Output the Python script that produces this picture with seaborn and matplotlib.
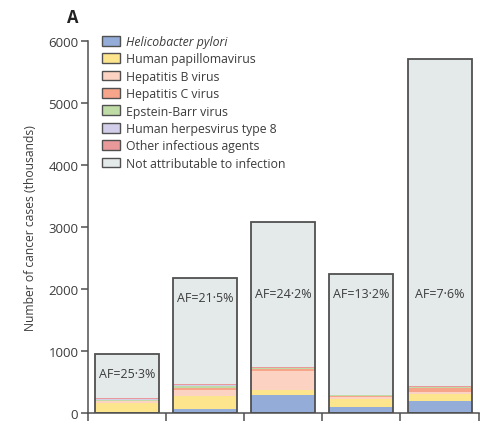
import numpy as np
import pandas as pd
import matplotlib
matplotlib.use("Agg")
import matplotlib.pyplot as plt
from matplotlib.patches import Patch
import seaborn as sns

# ---- data (thousands of new cancer cases) ----
groups = ["1", "2", "3", "4", "5"]
totals = [953, 2180, 3080, 2245, 5720]
h_pylori = [5, 70, 295, 92, 199]
hpv = [160, 215, 80, 134, 118]
hbv = [25, 85, 300, 35, 25]
hcv = [5, 40, 35, 18, 65]
ebv = [10, 35, 20, 10, 15]
hhv8 = [30, 10, 2, 2, 3]
other_agents = [6, 14, 13, 5, 10]

agent_names = ["Helicobacter pylori", "Human papillomavirus", "Hepatitis B virus",
               "Hepatitis C virus", "Epstein-Barr virus", "Human herpesvirus type 8",
               "Other infectious agents", "Not attributable to infection"]
agent_colors = ["#93acd8", "#fde58d", "#fcd3c3", "#f6a58b", "#c0dca6",
                "#d2cde8", "#e9999a", "#e4eaea"]

agents = [h_pylori, hpv, hbv, hcv, ebv, hhv8, other_agents]
attributable = np.sum(agents, axis=0)
not_attr = np.array(totals) - attributable
layers = agents + [list(not_attr)]
af = attributable / np.array(totals) * 100

df = pd.DataFrame({"group": groups})
cum = np.cumsum(np.array(layers, dtype=float), axis=0)

sns.set_theme(style="white")
plt.rcParams["font.family"] = ["Open Sans", "DejaVu Sans"]
text_col = "#3c3c3c"
line_col = "#505050"

fig = plt.figure(figsize=(4.81, 4.27), dpi=100)
ax = fig.add_axes([0.183, 0.030, 0.812, 0.871])

bar_w = 0.82
# stacked bars: draw cumulative heights from the top layer down
for i in range(len(layers) - 1, -1, -1):
    df["h"] = cum[i]
    sns.barplot(data=df, x="group", y="h", color=agent_colors[i], saturation=1,
                width=bar_w, linewidth=0, edgecolor="none", ax=ax, errorbar=None)

# outline of each full bar
df["h"] = totals
sns.barplot(data=df, x="group", y="h", fill=False, width=bar_w, linewidth=1.3,
            edgecolor=line_col, ax=ax, errorbar=None)

# attributable fraction labels
for i, (t, a) in enumerate(zip(totals, af)):
    ypos = min(1930, t - 310)
    ax.text(i, ypos, f"AF={a:.1f}%".replace(".", "\u00b7"), ha="center", va="center",
            fontsize=9, color=text_col)

ax.set_xlim(-0.5, len(groups) - 0.5)
ax.set_ylim(0, 6000)
ax.set_xticks(np.arange(-0.5, len(groups), 1.0))
ax.set_xticklabels([])
ax.set_yticks(range(0, 6001, 1000))
ax.tick_params(axis="y", direction="out", length=5, width=1.1, color=line_col,
               labelsize=9.5, labelcolor=text_col, left=True, pad=2)
ax.tick_params(axis="x", direction="out", length=6, width=1.1, color=line_col,
               bottom=True)
ax.set_xlabel("")
ax.set_ylabel("Number of cancer cases (thousands)", fontsize=8.7, color=text_col,
              labelpad=8)
for s in ["top", "right"]:
    ax.spines[s].set_visible(False)
for s in ["left", "bottom"]:
    ax.spines[s].set_color(line_col)
    ax.spines[s].set_linewidth(1.1)

handles = [Patch(facecolor=c, edgecolor="#505050", linewidth=1.0)
           for c in agent_colors]
leg = ax.legend(handles, agent_names, loc="upper left", bbox_to_anchor=(0.022, 1.03),
                frameon=False, fontsize=8.8, handlelength=1.5, handleheight=0.85,
                handletextpad=0.5, labelspacing=0.36, borderaxespad=0)
for t in leg.get_texts():
    t.set_color(text_col)
leg.get_texts()[0].set_fontstyle("italic")

fig.text(0.152, 0.957, "A", fontsize=12, fontweight="bold", color="#222222",
         ha="center", va="center")

fig.savefig("out.png", dpi=100)
